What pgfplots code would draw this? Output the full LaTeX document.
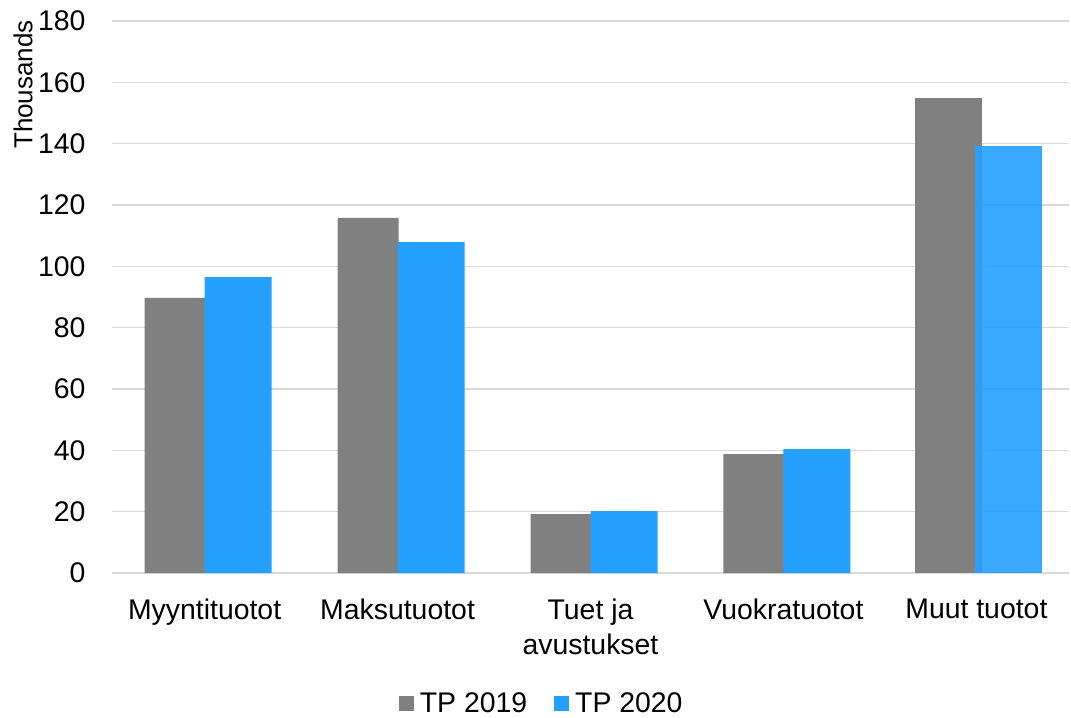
\documentclass[border=0pt]{standalone}
\usepackage{pgfplots}
\pgfplotsset{compat=1.18}
\usepackage{fontspec}
\setmainfont{Liberation Sans}
\definecolor{g19}{RGB}{128,128,128}
\definecolor{b20}{RGB}{36,160,255}
\definecolor{gridc}{RGB}{217,217,217}
\begin{document}
\begin{tikzpicture}
\begin{axis}[
  scale only axis, width=957pt, height=552pt,
  xmin=-0.48, xmax=4.48, ymin=0, ymax=180,
  xtick={0,1,2,3,4},
  xticklabels={Myyntituotot, Maksutuotot, {Tuet ja\\avustukset}, Vuokratuotot, Muut tuotot},
  ytick={0,20,...,180},
  major tick length=0pt,
  axis line style={draw=none},
  ymajorgrids, grid style={gridc, line width=1.5pt},
  /pgf/number format/assume math mode=true,
  tick label style={font=\fontsize{28.4}{35}\selectfont},
  xticklabel style={align=center, yshift=-22pt},
  yticklabel style={xshift=-23pt},
  legend style={at={(0.449,-0.236)}, anchor=center, draw=none, fill=none,
    font=\fontsize{28.4}{34}\selectfont, legend columns=2,
    /tikz/every odd column/.append style={column sep=4pt},
    /tikz/every even column/.append style={column sep=25pt}},
  legend image code/.code={\fill[#1] (0pt,-7.5pt) rectangle (15pt,7.5pt);},
]
% TP 2019
\addplot[ybar, bar width=61pt, bar shift=-29.5pt, fill=g19, draw=none]
  coordinates {(0,89.7) (1,115.8) (2,19.2) (3,38.8)};
\addlegendentry{TP 2019}
\addplot[ybar, bar width=67pt, bar shift=-27.5pt, fill=g19, draw=none, forget plot]
  coordinates {(4,154.9)};
% TP 2020
\addplot[ybar, bar width=67pt, bar shift=33.5pt, fill=b20, draw=none]
  coordinates {(0,96.5) (1,107.9) (2,20.2) (3,40.4)};
\addlegendentry{TP 2020}
\addplot[ybar, bar width=67pt, bar shift=32.5pt, fill=b20, fill opacity=0.9, draw=none, forget plot]
  coordinates {(4,139.2)};
\end{axis}
\node[rotate=90, anchor=east, inner sep=0pt, font=\fontsize{26}{30}\selectfont]
  at ([xshift=-89pt, yshift=1pt]current axis.north west) {Thousands};
\path ([xshift=-112pt, yshift=-142pt]current axis.south west) rectangle
      ([xshift=2pt, yshift=21pt]current axis.north east);
\end{tikzpicture}
\end{document}
